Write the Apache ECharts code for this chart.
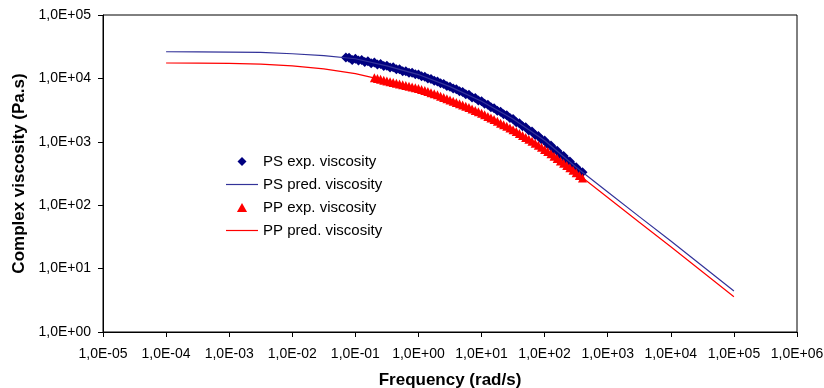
<!DOCTYPE html>
<html>
<head>
<meta charset="utf-8">
<script src="https://cdn.jsdelivr.net/npm/echarts@6/dist/echarts.min.js"></script>
<style>
html,body{margin:0;padding:0;background:#fff;}
#c{width:824px;height:388px;}
</style>
</head>
<body>
<div id="c"></div>
<script>
// PS experimental viscosity
var psExpFreq = [0.0708,0.0794,0.0891,0.1,0.112,0.126,0.141,0.158,0.178,0.2,0.224,0.251,0.282,0.316,0.355,0.398,0.447,0.501,0.562,0.631,0.708,0.794,0.891,1.0,1.12,1.26,1.41,1.58,1.78,2.0,2.24,2.51,2.82,3.16,3.55,3.98,4.47,5.01,5.62,6.31,7.08,7.94,8.91,10.0,11.2,12.6,14.1,15.8,17.8,20.0,22.4,25.1,28.2,31.6,35.5,39.8,44.7,50.1,56.2,63.1,70.8,79.4,89.1,100,112,126,141,158,178,200,224,251,282,316,355,398];
var psExpVisc = [21400,21100,19500,20400,19100,19500,18200,18600,17400,17800,16600,16800,15700,15800,14800,15000,14000,14000,13000,13000,12300,12300,11600,11500,10800,10600,10000,9770,9160,8910,8360,8130,7620,7410,6920,6760,6270,6100,5620,5500,5010,4900,4470,4370,3980,3850,3510,3390,3090,2990,2720,2630,2370,2290,2040,1970,1760,1700,1510,1450,1280,1230,1090,1050,912,871,759,724,624,596,513,490,417,398,347,331];
// PS predicted viscosity
var psPredFreq = [0.0001,0.000316,0.001,0.00316,0.01,0.0316,0.1,0.316,1,3.16,10,31.6,100,316,1000,3162,10000,31623,100000];
var psPredVisc = [26300,26200,26000,25700,24500,22900,20400,15800,11500,7410,4370,2290,1050,398,162,66,27.2,11.0,4.43];
// PP experimental viscosity
var ppExpFreq = [0.2,0.224,0.251,0.282,0.316,0.355,0.398,0.447,0.501,0.562,0.631,0.708,0.794,0.891,1.0,1.12,1.26,1.41,1.58,1.78,2.0,2.24,2.51,2.82,3.16,3.55,3.98,4.47,5.01,5.62,6.31,7.08,7.94,8.91,10.0,11.2,12.6,14.1,15.8,17.8,20.0,22.4,25.1,28.2,31.6,35.5,39.8,44.7,50.1,56.2,63.1,70.8,79.4,89.1,100,112,126,141,158,178,200,224,251,282,316,355,398];
var ppExpVisc = [10200,9930,9660,9380,9120,8850,8610,8360,8130,7910,7710,7500,7310,7110,6920,6680,6460,6190,5960,5710,5500,5250,5010,4790,4570,4370,4170,3980,3800,3630,3470,3290,3130,2970,2820,2660,2510,2370,2240,2100,1970,1860,1760,1650,1550,1450,1350,1260,1170,1100,1020,948,881,817,759,700,646,592,543,498,457,422,389,355,324,295,269];
// PP predicted viscosity
var ppPredFreq = [0.0001,0.000316,0.001,0.00316,0.01,0.0316,0.1,0.316,1,3.16,10,31.6,100,316,1000,3162,10000,31623,100000];
var ppPredVisc = [17500,17400,17200,16800,15800,14100,11900,9120,6920,4570,2820,1550,759,324,132,53.7,22.1,8.91,3.6];

var seriesNames = ['PS exp. viscosity','PS pred. viscosity','PP exp. viscosity','PP pred. viscosity'];
var xAxisTitle = 'Frequency (rad/s)';
var yAxisTitle = 'Complex viscosity (Pa.s)';

function zip(a,b){var r=[];for(var i=0;i<a.length;i++){r.push([a[i],b[i]]);}return r;}
function sciLabel(v){
  var e = Math.round(Math.log10(v));
  var s = e < 0 ? '-' : '+';
  var a = Math.abs(e);
  return '1,0E' + s + (a < 10 ? '0' + a : '' + a);
}

var diamondIcon = 'path://M4.5,0L9,4.5L4.5,9L0,4.5Z';
var triangleIcon = 'path://M4.5,0L9,8L0,8Z';
var lineIcon = 'path://M0,0L32,0L32,1.2L0,1.2Z';

var chart = echarts.init(document.getElementById('c'), null, {renderer:'canvas'});
var font = 'Arial, "Liberation Sans", sans-serif';
chart.setOption({
  animation:false,
  backgroundColor:'#fff',
  textStyle:{fontFamily:font},
  grid:{left:103, top:15, right:27, bottom:56, show:true, borderColor:'#000', borderWidth:1,
        containLabel:false, outerBoundsMode:'none'},
  legend:{
    orient:'vertical', left:226, top:154, padding:0,
    itemWidth:32, itemHeight:9, itemGap:8,
    symbolKeepAspect:true,
    data:[
      {name:seriesNames[0], icon:diamondIcon},
      {name:seriesNames[1], icon:lineIcon},
      {name:seriesNames[2], icon:triangleIcon},
      {name:seriesNames[3], icon:lineIcon}
    ],
    textStyle:{fontSize:15, color:'#000', fontFamily:font}
  },
  xAxis:{
    type:'log', logBase:10, min:0.00001, max:1000000, interval:1,
    name:xAxisTitle, nameLocation:'middle', nameGap:40,
    nameTextStyle:{fontSize:17, fontWeight:'bold', color:'#000', fontFamily:font},
    axisLine:{show:true, onZero:false, lineStyle:{color:'#000', width:1}},
    axisTick:{show:true, inside:false, length:5, lineStyle:{color:'#000'}},
    minorTick:{show:false},
    splitLine:{show:false},
    axisLabel:{fontSize:14, color:'#000', margin:15, formatter:sciLabel, showMinLabel:true, showMaxLabel:true, hideOverlap:false}
  },
  yAxis:{
    type:'log', logBase:10, min:1, max:100000, interval:1,
    name:yAxisTitle, nameLocation:'middle', nameGap:71, nameRotate:90,
    nameTextStyle:{fontSize:17, fontWeight:'bold', color:'#000', fontFamily:font},
    axisLine:{show:true, onZero:false, lineStyle:{color:'#000', width:1}},
    axisTick:{show:true, inside:false, length:5, lineStyle:{color:'#000'}},
    splitLine:{show:false},
    axisLabel:{fontSize:14, color:'#000', margin:12, formatter:sciLabel, showMinLabel:true, showMaxLabel:true, hideOverlap:false}
  },
  series:[
    {name:seriesNames[0], type:'scatter', data:zip(psExpFreq,psExpVisc), symbol:'diamond', symbolSize:10,
     itemStyle:{color:'#000080', opacity:1}, z:2},
    {name:seriesNames[1], type:'line', data:zip(psPredFreq,psPredVisc), symbol:'none', showSymbol:false, smooth:false,
     lineStyle:{color:'#333399', width:1.2}, itemStyle:{color:'#333399'}, z:3},
    {name:seriesNames[2], type:'scatter', data:zip(ppExpFreq,ppExpVisc), symbol:'triangle', symbolSize:9,
     itemStyle:{color:'#ff0000', opacity:1}, z:4},
    {name:seriesNames[3], type:'line', data:zip(ppPredFreq,ppPredVisc), symbol:'none', showSymbol:false, smooth:false,
     lineStyle:{color:'#ff0000', width:1.2}, itemStyle:{color:'#ff0000'}, z:5}
  ]
});
</script>
</body>
</html>
